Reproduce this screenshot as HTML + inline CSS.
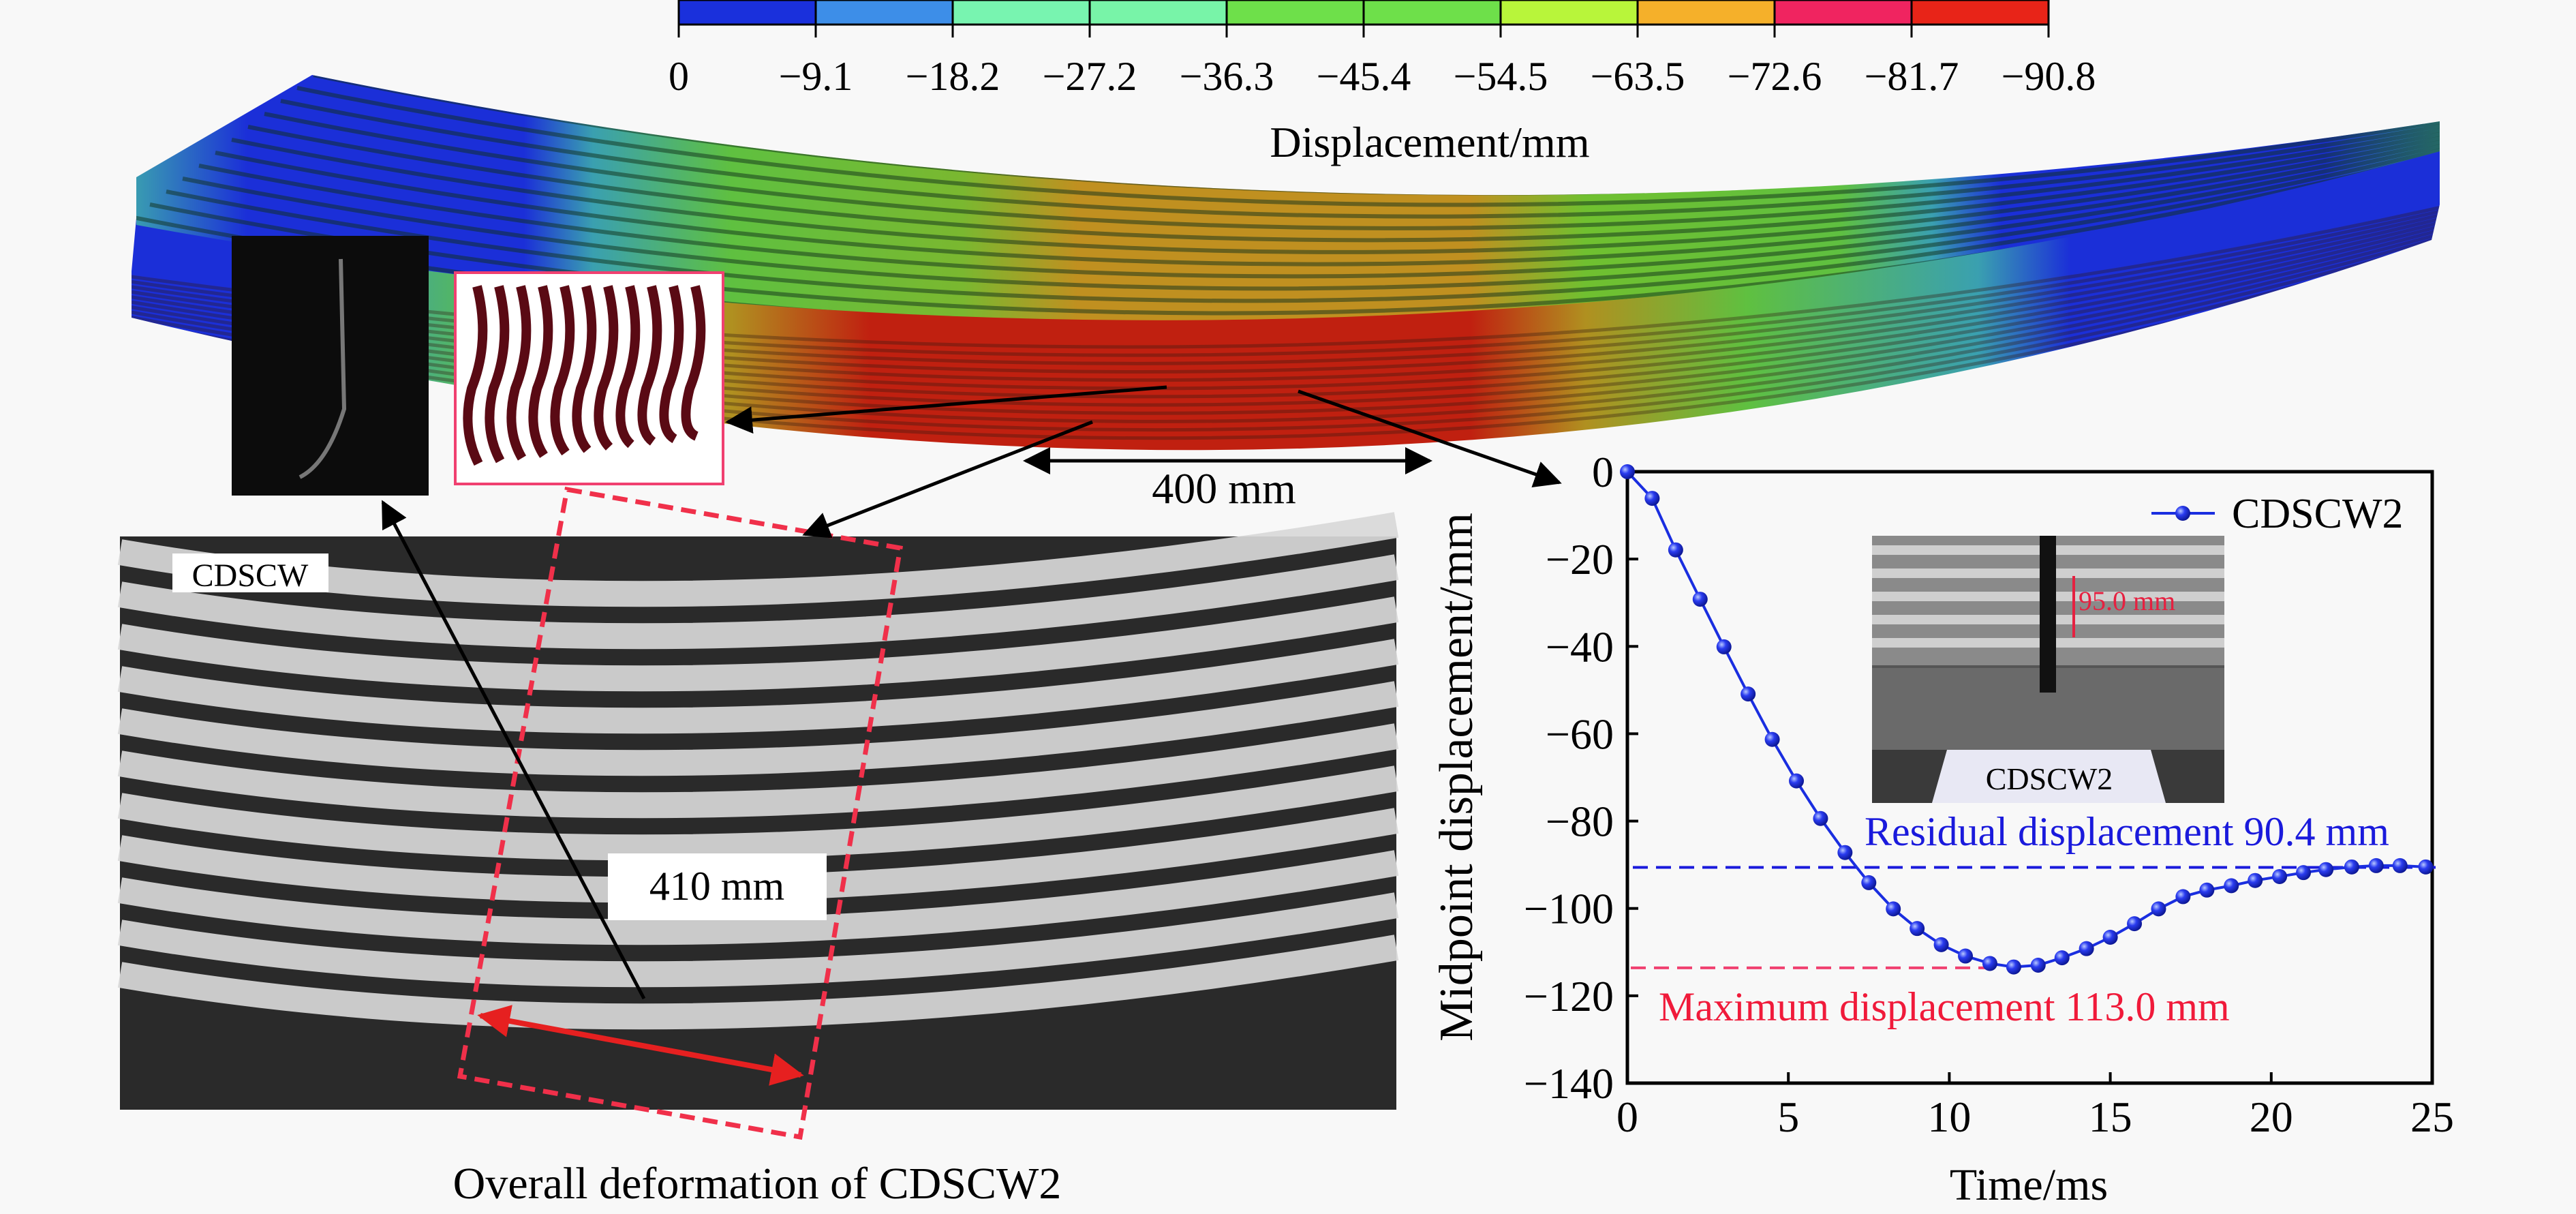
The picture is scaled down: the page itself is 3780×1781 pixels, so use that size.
<!DOCTYPE html>
<html><head><meta charset="utf-8">
<style>
html,body{margin:0;padding:0;background:#f8f8f8;}
svg{display:block;font-family:"Liberation Serif",serif;}
</style></head>
<body>
<svg id="fig" width="3780" height="1781" viewBox="0 0 3780 1781" xmlns="http://www.w3.org/2000/svg">
<defs>
<linearGradient id="beamTop" gradientUnits="userSpaceOnUse" x1="193" x2="3580" y1="0" y2="0">
<stop offset="0" stop-color="#3aa0b0"/><stop offset="0.05" stop-color="#1b2fd8"/><stop offset="0.17" stop-color="#1b2fd8"/>
<stop offset="0.2" stop-color="#3aa0b0"/><stop offset="0.26" stop-color="#5fc040"/><stop offset="0.36" stop-color="#7ab830"/>
<stop offset="0.41" stop-color="#c09020"/><stop offset="0.58" stop-color="#c09020"/><stop offset="0.63" stop-color="#70c030"/>
<stop offset="0.74" stop-color="#5fc040"/><stop offset="0.78" stop-color="#3aa0b0"/><stop offset="0.81" stop-color="#1b2fd8"/>
<stop offset="0.95" stop-color="#1b2fd8"/><stop offset="1" stop-color="#3aa0b0"/></linearGradient>
<linearGradient id="beamBot" gradientUnits="userSpaceOnUse" x1="193" x2="3580" y1="0" y2="0">
<stop offset="0" stop-color="#1b2fd8"/><stop offset="0.06" stop-color="#1b2fd8"/><stop offset="0.1" stop-color="#3aa0b0"/>
<stop offset="0.16" stop-color="#5fc040"/><stop offset="0.26" stop-color="#b09020"/><stop offset="0.32" stop-color="#c02010"/>
<stop offset="0.58" stop-color="#c02010"/><stop offset="0.63" stop-color="#b09020"/><stop offset="0.7" stop-color="#5fc040"/>
<stop offset="0.8" stop-color="#3aa0b0"/><stop offset="0.84" stop-color="#1b2fd8"/><stop offset="1" stop-color="#1b2fd8"/></linearGradient>
<clipPath id="clipUp"><path d="M458,110 Q2000,424 3580,178 L3580,222 Q2000,656 200,330 L200,260 Z"/></clipPath>
<clipPath id="clipLo"><path d="M193,398 L200,320 Q2000,640 3580,215 L3580,300 L3568,352 Q2000,905 193,466 Z"/></clipPath>
<marker id="ah" viewBox="0 0 10 10" refX="9" refY="5" markerWidth="8" markerHeight="8" orient="auto-start-reverse"><path d="M0,0 L10,5 L0,10 z" fill="#000"/></marker>
<marker id="ahr" viewBox="0 0 10 10" refX="9" refY="5" markerWidth="6" markerHeight="6" orient="auto-start-reverse"><path d="M0,0 L10,5 L0,10 z" fill="#e62020"/></marker>
<radialGradient id="ball" cx="0.35" cy="0.35" r="0.7"><stop offset="0" stop-color="#b8c8ff"/><stop offset="0.4" stop-color="#2a3cf0"/><stop offset="1" stop-color="#0a148c"/></radialGradient>
</defs>

<g id="colorbar"></g>
<text x="2098" y="230" font-size="64" text-anchor="middle">Displacement/mm</text>

<g>
<rect x="150" y="100" width="3450" height="820" fill="url(#beamBot)" clip-path="url(#clipLo)"/>
<g id="beamLinesLo" clip-path="url(#clipLo)" stroke="#301a10" stroke-opacity="0.35" stroke-width="5" fill="none"></g>
<rect x="150" y="100" width="3450" height="820" fill="url(#beamTop)" clip-path="url(#clipUp)"/>
<g id="beamLinesUp" clip-path="url(#clipUp)" stroke="#10301a" stroke-opacity="0.5" stroke-width="6" fill="none"></g>
</g>

<rect x="340" y="346" width="289" height="381" fill="#0c0c0c"/>
<path d="M500,380 L505,600 Q480,680 440,700" stroke="#777" stroke-width="6" fill="none"/>
<rect x="668" y="400" width="393" height="310" fill="#fff" stroke="#f04070" stroke-width="4"/>
<g id="rebars" stroke="#5a0a14" stroke-width="14" fill="none"></g>

<g>
<rect x="176" y="787" width="1873" height="841" fill="#2a2a2a"/>
<g id="stripes" fill="none" stroke-linecap="butt"></g>
<rect x="253" y="812" width="229" height="57" fill="#fff"/>
<text x="367" y="860" font-size="48" text-anchor="middle">CDSCW</text>
</g>
<polygon points="832,718 1321,804 1174,1668 675,1579" fill="none" stroke="#f0304a" stroke-width="7" stroke-dasharray="22,12"/>
<rect x="892" y="1252" width="321" height="98" fill="#fff"/>
<text x="1052" y="1320" font-size="60" text-anchor="middle">410 mm</text>
<line x1="705" y1="1490" x2="1175" y2="1577" stroke="#e62020" stroke-width="8" marker-start="url(#ahr)" marker-end="url(#ahr)"/>
<line x1="945" y1="1465" x2="562" y2="737" stroke="#000" stroke-width="5" marker-end="url(#ah)"/>
<line x1="1181" y1="784" x2="1603" y2="619" stroke="#000" stroke-width="5" marker-start="url(#ah)"/>
<line x1="1712" y1="568" x2="1068" y2="619" stroke="#000" stroke-width="5" marker-end="url(#ah)"/>
<line x1="1905" y1="574" x2="2288" y2="708" stroke="#000" stroke-width="5" marker-end="url(#ah)"/>
<line x1="1505" y1="676" x2="2098" y2="676" stroke="#000" stroke-width="5" marker-start="url(#ah)" marker-end="url(#ah)"/>
<text x="1796" y="738" font-size="64" text-anchor="middle">400 mm</text>
<text x="1111" y="1758" font-size="66" text-anchor="middle">Overall deformation of CDSCW2</text>

<g id="chart"></g>
</svg>
<script>
var NS="http://www.w3.org/2000/svg";
function mk(tag,attrs,parent){var e=document.createElementNS(NS,tag);for(var k in attrs)e.setAttribute(k,attrs[k]);parent.appendChild(e);return e;}

var cbLabels=["0","\u22129.1","\u221218.2","\u221227.2","\u221236.3","\u221245.4","\u221254.5","\u221263.5","\u221272.6","\u221281.7","\u221290.8"];
var cbColors=["#1a30dc","#3d8ee8","#78f4b0","#78f4a8","#6ee04a","#6ee04a","#b8f53a","#f5b02a","#f02460","#e82418"];
var cb=document.getElementById('colorbar');
var cbX0=996,cbW=201;
cbColors.forEach(function(c,i){
 var r=mk('rect',{x:cbX0+i*cbW,y:0,width:cbW,height:36,fill:c,stroke:'#000','stroke-width':3},cb);
 
 
});
cbLabels.forEach(function(l,i){
 var x=cbX0+i*cbW;
 mk('line',{x1:x,y1:36,x2:x,y2:55,stroke:'#000','stroke-width':3},cb);
 var t=mk('text',{x:x,y:132,'font-size':60,'text-anchor':'middle'},cb);t.textContent=l;
 
 
});

var bu=document.getElementById('beamLinesUp');
for(var i=0;i<12;i++){
 var o=i*19;
 mk('path',{d:'M'+(460-i*24)+','+(110+o*1.0)+' Q2000,'+(424+o*1.2)+' 3600,'+(170+o*0.3)},bu);
}
var bo=document.getElementById('beamLinesLo');
for(var i=0;i<12;i++){
 var o=i*18;
 mk('path',{d:'M150,'+(400+o*0.4)+' Q2000,'+(660+o)+' 3600,'+(300+o*0.3)},bo);
}
var rb=document.getElementById('rebars');
for(var i=0;i<11;i++){var x=700+i*32;mk('path',{d:'M'+x+',420 q20,80 -8,150 q-15,60 10,'+(110-i*4)},rb);}
var st=document.getElementById('stripes');
for(var i=0;i<11;i++){
 var y=830+i*62;
 mk('path',{d:'M176,'+(y-20)+' Q1000,'+(y+120)+' 2049,'+(y-60),stroke:'#d8d8d8','stroke-width':38,opacity:0.92},st);
}

// ---- chart data ----
var times=[0,0.77,1.5,2.26,3.0,3.75,4.5,5.25,6.0,6.76,7.5,8.26,9.0,9.75,10.5,11.26,12.0,12.76,13.5,14.26,15.0,15.75,16.5,17.26,18.0,18.76,19.5,20.26,21.0,21.7,22.5,23.26,24.0,24.8];
var disp=[0,-6.1,-17.9,-29.2,-40.1,-50.9,-61.3,-70.8,-79.4,-87.2,-94.1,-100.1,-104.6,-108.3,-110.9,-112.6,-113.4,-113.0,-111.3,-109.2,-106.6,-103.5,-100.1,-97.3,-95.8,-94.8,-93.6,-92.7,-91.8,-91.1,-90.5,-90.2,-90.2,-90.5];
var xTicks=[0,5,10,15,20,25];
var yTicks=[0,-20,-40,-60,-80,-100,-120,-140];
var residual=-90.6, maximum=-113.6;

var PL=2388,PR=3569,PT=692,PB=1589;
function xs(t){return PL+(t-0)/(25-0)*(PR-PL);}
function ys(v){return PT+(0-v)/(140)*(PB-PT);}
var ch=document.getElementById('chart');
var fr=mk('rect',{x:PL,y:PT,width:PR-PL,height:PB-PT,fill:'none',stroke:'#000','stroke-width':5},ch);


var ph=mk('rect',{x:2747,y:786,width:517,height:392,fill:'#555'},ch);


mk('rect',{x:2747,y:786,width:517,height:190,fill:'#8a8a8a'},ch);
for(var k=0;k<5;k++){mk('rect',{x:2747,y:800+k*34,width:517,height:14,fill:'#e0e0e0',opacity:0.8},ch);}
mk('rect',{x:2747,y:980,width:517,height:120,fill:'#6a6a6a'},ch);
mk('rect',{x:2747,y:1100,width:517,height:78,fill:'#3a3a3a'},ch);
mk('rect',{x:2993,y:786,width:24,height:230,fill:'#111'},ch);
mk('polygon',{points:'2857,1100 3156,1100 3178,1178 2835,1178',fill:'#e8e8f4'},ch);
var it=mk('text',{x:3007,y:1158,'font-size':46,'text-anchor':'middle'},ch);it.textContent='CDSCW2';


var it2=mk('text',{x:3050,y:895,'font-size':40,fill:'#e62040'},ch);it2.textContent='95.0 mm';


mk('line',{x1:3043,y1:845,x2:3043,y2:935,stroke:'#e62040','stroke-width':4},ch);

xTicks.forEach(function(t){
 mk('line',{x1:xs(t),y1:PB,x2:xs(t),y2:PB-16,stroke:'#000','stroke-width':4},ch);
 var e=mk('text',{x:xs(t),y:1660,'font-size':64,'text-anchor':'middle'},ch);e.textContent=t;
 
 
});
yTicks.forEach(function(v){
 mk('line',{x1:PL,y1:ys(v),x2:PL+16,y2:ys(v),stroke:'#000','stroke-width':4},ch);
 var e=mk('text',{x:PL-20,y:ys(v)+22,'font-size':64,'text-anchor':'end'},ch);e.textContent=(v<0?'\u2212'+(-v):v);
 
 
});
var xt=mk('text',{x:2977,y:1760,'font-size':66,'text-anchor':'middle'},ch);xt.textContent='Time/ms';


var yt=mk('text',{x:2160,y:1140,'font-size':70,'text-anchor':'middle',transform:'rotate(-90 2160 1140)'},ch);yt.textContent='Midpoint displacement/mm';



var rl=mk('line',{x1:PL+8,y1:ys(residual),x2:3582,y2:ys(residual),stroke:'#1a1adc','stroke-width':4,'stroke-dasharray':'22,12'},ch);


var ml=mk('line',{x1:PL+5,y1:ys(maximum),x2:xs(11.5),y2:ys(maximum),stroke:'#f04070','stroke-width':4,'stroke-dasharray':'22,12'},ch);


var rt=mk('text',{x:2736,y:1240,'font-size':60,fill:'#1a1adc'},ch);rt.textContent='Residual displacement 90.4 mm';


var mt=mk('text',{x:2434,y:1497,'font-size':60,fill:'#f01a3a'},ch);mt.textContent='Maximum displacement 113.0 mm';



var d=times.map(function(t,i){return (i?'L':'M')+xs(t)+','+ys(disp[i]);}).join(' ');
var ln=mk('path',{d:d,fill:'none',stroke:'#1a2ee0','stroke-width':4},ch);


times.forEach(function(t,i){
 var c=mk('circle',{cx:xs(t),cy:ys(disp[i]),r:11,fill:'url(#ball)'},ch);
 
 
});
mk('line',{x1:3157,y1:753,x2:3250,y2:753,stroke:'#1a2ee0','stroke-width':4},ch);
var lc=mk('circle',{cx:3203,cy:753,r:11,fill:'url(#ball)'},ch);


var lt=mk('text',{x:3275,y:774,'font-size':62},ch);lt.textContent='CDSCW2';


</script>
</body></html>
